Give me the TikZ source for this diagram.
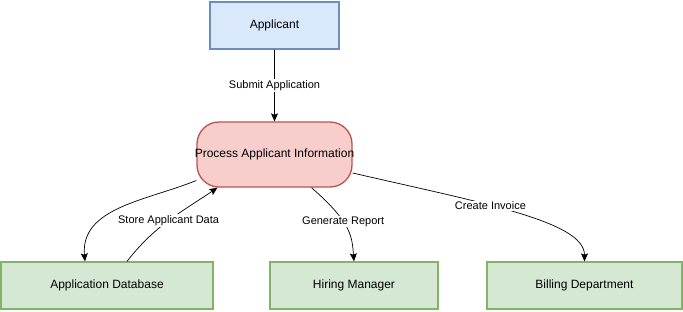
\documentclass[tikz,border=0pt]{standalone}
\usepackage{fontspec}
\setmainfont{Liberation Sans}
\usetikzlibrary{arrows.meta}
\definecolor{bluefill}{HTML}{DAE8FC}
\definecolor{bluedraw}{HTML}{6C8EBF}
\definecolor{redfill}{HTML}{F8CECC}
\definecolor{reddraw}{HTML}{B85450}
\definecolor{greenfill}{HTML}{D5E8D4}
\definecolor{greendraw}{HTML}{82B366}
\begin{document}
\begin{tikzpicture}[x=1pt,y=-1pt,
  box/.style={draw,line width=1.3pt,minimum height=47pt,inner sep=0pt,font=\fontsize{12}{14}\selectfont},
  arr/.style={-{Stealth[length=8pt,width=7pt,inset=1.5pt]},line width=0.7pt},
  lbl/.style={fill=white,inner sep=1pt,font=\fontsize{11}{13}\selectfont}]
\useasboundingbox (0,0) rectangle (683,311);
\node[box,fill=bluefill,draw=bluedraw,minimum width=129pt] (app) at (274.5,25.5) {Applicant};
% the text is a bit wider than the box, so keep the box width fixed
\node[box,fill=redfill,draw=reddraw,minimum width=155pt,minimum height=65pt,rounded corners=22pt] (proc) at (274.5,154.5) {\makebox[155pt]{Process Applicant Information}};
\node[box,fill=greenfill,draw=greendraw,minimum width=212pt] (db) at (107,285.5) {Application Database};
\node[box,fill=greenfill,draw=greendraw,minimum width=168pt] (hm) at (354,285.5) {Hiring Manager};
\node[box,fill=greenfill,draw=greendraw,minimum width=195pt] (bill) at (584.5,285.5) {Billing Department};
% connectors
\draw[arr] (app) -- node[lbl] {Submit Application} (proc);
\draw[arr] ([yshift=-26pt]proc.west) to[out=202,in=95] ([xshift=-22pt]db.north);
\draw[arr] ([xshift=20pt]db.north) to[out=52,in=214] node[lbl,pos=0.5] {Store Applicant Data} ([xshift=-57pt]proc.south);
\draw[arr] ([xshift=37pt]proc.south) .. controls +(40,35) and +(-2,-25) .. node[lbl,pos=0.4] {Generate Report} (hm.north);
\draw[arr] ([yshift=-18.5pt]proc.east) .. controls +(130,30) and +(0,-40) .. node[lbl,pos=0.4] {Create Invoice} (bill.north);
\end{tikzpicture}
\end{document}
